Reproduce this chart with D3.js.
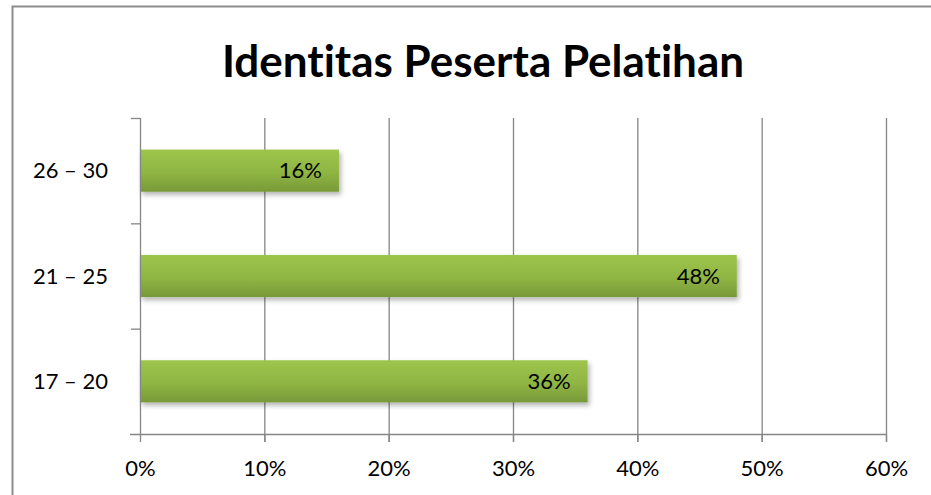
<!DOCTYPE html>
<html>
<head>
<meta charset="utf-8">
<script src="https://cdn.jsdelivr.net/npm/d3@7"></script>
<style>
  body { margin: 0; background: #fff; }
  text { font-family: Lato, "Open Sans", sans-serif; font-variant-ligatures: none; }
</style>
</head>
<body>
<svg id="chart" width="931" height="495"></svg>
<script>
// data
var categories = ["17 – 20", "21 – 25", "26 – 30"];
var values = [36, 48, 16];
var xTicks = [0, 10, 20, 30, 40, 50, 60];
var title = "Identitas Peserta Pelatihan";

var svg = d3.select("#chart");

var mLeft = 140, mRight = 886, mTop = 118, mBottom = 434;

var defs = svg.append("defs");
var grad = defs.append("linearGradient")
    .attr("id", "barGrad")
    .attr("x1", 0).attr("y1", 0).attr("x2", 0).attr("y2", 1);
grad.append("stop").attr("offset", "0%").attr("stop-color", "#9dc54b");
grad.append("stop").attr("offset", "55%").attr("stop-color", "#8fb543");
grad.append("stop").attr("offset", "100%").attr("stop-color", "#789938");

var shadow = defs.append("filter").attr("id", "shadow")
    .attr("x", "-5%").attr("y", "-20%").attr("width", "115%").attr("height", "160%");
shadow.append("feDropShadow")
    .attr("dx", 2).attr("dy", 3).attr("stdDeviation", 2.5)
    .attr("flood-color", "#000").attr("flood-opacity", 0.3);

// chart border
svg.append("rect")
    .attr("x", 12.5).attr("y", 6.5)
    .attr("width", 940).attr("height", 500)
    .attr("fill", "none")
    .attr("stroke", "#8c8c8c")
    .attr("stroke-width", 2);

var x = d3.scaleLinear().domain([0, 60]).range([mLeft, mRight]);
var y = d3.scaleBand().domain(categories.slice().reverse())
    .range([mTop, mBottom]).paddingInner(0.6).paddingOuter(0.3);

// gridlines
svg.selectAll("line.grid")
    .data(xTicks.slice(1))
    .enter().append("line")
    .attr("class", "grid")
    .attr("x1", d => x(d) + 0.5).attr("x2", d => x(d) + 0.5)
    .attr("y1", mTop).attr("y2", mBottom + 8)
    .attr("stroke", "#868686").attr("stroke-width", 1.3);

// bars
svg.selectAll("rect.bar")
    .data(categories)
    .enter().append("rect")
    .attr("class", "bar")
    .attr("x", x(0))
    .attr("y", d => y(d))
    .attr("width", (d, i) => x(values[i]) - x(0))
    .attr("height", y.bandwidth())
    .attr("fill", "url(#barGrad)")
    .attr("filter", "url(#shadow)");

// data labels
svg.selectAll("text.val")
    .data(categories)
    .enter().append("text")
    .attr("class", "val")
    .attr("x", (d, i) => x(values[i]) - 17)
    .attr("y", d => y(d) + y.bandwidth() / 2)
    .attr("dy", "0.35em")
    .attr("text-anchor", "end")
    .style("font-size", "22px")
    .attr("fill", "#000")
    .text((d, i) => values[i] + "%");

// x axis
var xAxis = svg.append("g")
    .attr("transform", "translate(0," + mBottom + ")")
    .call(d3.axisBottom(x).tickValues(xTicks).tickSize(8).tickFormat(d => d + "%"));
xAxis.select(".domain").remove();
xAxis.append("line")
    .attr("x1", mLeft - 10).attr("x2", mRight + 0.5)
    .attr("y1", 0.5).attr("y2", 0.5)
    .attr("stroke", "#868686").attr("stroke-width", 1.3);
xAxis.selectAll(".tick line").attr("stroke", "#868686").attr("stroke-width", 1.3);
xAxis.selectAll(".tick text")
    .attr("y", 26)
    .style("font-size", "22px")
    .style("font-family", "Lato, sans-serif")
    .attr("fill", "#000");

// y axis
var yAxis = svg.append("g")
    .attr("transform", "translate(" + mLeft + ",0)");
yAxis.append("line")
    .attr("x1", 0.5).attr("x2", 0.5)
    .attr("y1", mTop).attr("y2", mBottom)
    .attr("stroke", "#868686").attr("stroke-width", 1.3);
var yStep = (mBottom - mTop) / categories.length;
yAxis.selectAll("line.ytick")
    .data(d3.range(categories.length))
    .enter().append("line")
    .attr("class", "ytick")
    .attr("x1", -9).attr("x2", 0)
    .attr("y1", i => mTop + i * yStep + 0.5)
    .attr("y2", i => mTop + i * yStep + 0.5)
    .attr("stroke", "#868686").attr("stroke-width", 1.3);
yAxis.selectAll("text.cat")
    .data(categories)
    .enter().append("text")
    .attr("class", "cat")
    .attr("x", -32)
    .attr("y", d => y(d) + y.bandwidth() / 2)
    .attr("dy", "0.35em")
    .attr("text-anchor", "end")
    .style("font-size", "22px")
    .attr("fill", "#000")
    .text(d => d);

// title
svg.append("text")
    .attr("x", 483)
    .attr("y", 77)
    .attr("text-anchor", "middle")
    .style("font-size", "44px")
    .style("font-weight", "bold")
    .attr("fill", "#000")
    .text(title);
</script>
</body>
</html>
